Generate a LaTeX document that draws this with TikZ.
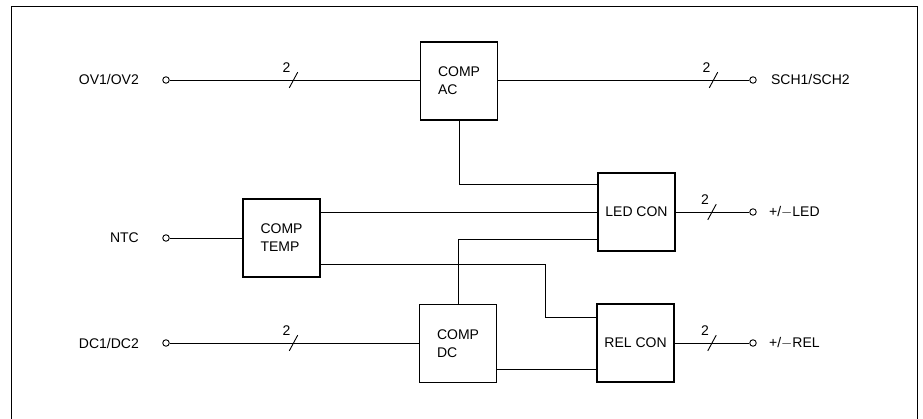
\documentclass[tikz,border=0pt]{standalone}
\usepackage{fontspec}
\setmainfont{Liberation Sans}
\usetikzlibrary{positioning}

\begin{document}
\begin{tikzpicture}[x=1pt, y=-1pt, line width=0.9pt,
  blk/.style={draw, line width=1.1pt, minimum width=77pt, minimum height=78pt,
    inner sep=0pt, align=left, font=\fontsize{14pt}{18pt}\selectfont},
  term/.style={draw, circle, inner sep=0pt, minimum size=6.5pt},
  lbl/.style={inner sep=0pt, font=\fontsize{14pt}{16pt}\selectfont},
  bus/.pic={\draw (-4.2,7.8) -- (4.2,-7.8); \node[lbl] at (-7,-12) {2};}]
  \useasboundingbox (0,0) rectangle (923,419);
  % frame
  \draw[line width=1pt] (11,419) -- (11,7) -- (917,7) -- (917,419);

  % blocks
  \node[blk] (ac) at (459,81) {COMP\\AC};
  \node[blk] (temp) at (281.5,238) {COMP\\TEMP};
  \node[blk] (led) at (636.5,212) {LED CON};
  \node[blk] (dc) at (458,343.5) {COMP\\DC};
  \node[blk] (rel) at (635.5,343) {REL CON};

  % terminals
  \node[term] (ov) at (166,80) {};
  \node[term] (ntc) at (166,238) {};
  \node[term] (dcin) at (166,343) {};
  \node[term] (sch) at (753,80) {};
  \node[term] (ledout) at (753,212) {};
  \node[term] (relout) at (753,343) {};
  \node[lbl, left=23pt of ov] (ovlbl) {OV1/OV2};
  \node[lbl, left=23pt of ntc] (ntclbl) {NTC};
  \node[lbl, left=23pt of dcin] (dclbl) {DC1/DC2};
  \node[lbl, right=14pt of sch] (schlbl) {SCH1/SCH2};
  \node[lbl, right=12pt of ledout] (ledlbl) {+/$-$LED};
  \node[lbl, right=12pt of relout] (rellbl) {+/$-$REL};

  % wires
  \draw (ov) -- (ov -| ac.west);
  \draw (ac.east |- sch) -- (sch);
  \draw (ntc) -- (ntc -| temp.west);
  \draw (dcin) -- (dcin -| dc.west);
  \draw (led) -- (ledout);
  \draw (rel) -- (relout);
  \draw (ac) |- ([yshift=-12pt]led.north west);
  \draw (temp.east |- led) -- (led);
  \draw ([yshift=-27pt]led.west) -| (dc);
  \coordinate (bend) at ([xshift=-51pt,yshift=-14pt]rel.north west);
  \draw ([yshift=-26pt]temp.east) -| (bend) -- (bend -| rel.west);
  \coordinate (dclow) at ([yshift=-25.5pt]dc.east);
  \draw (dclow) -- (dclow -| rel.west);

  % bus marks
  \pic at (293.5,80) {bus};
  \pic at (713.5,80) {bus};
  \pic at (712,212) {bus};
  \pic at (293.5,343) {bus};
  \pic at (712,343) {bus};
\end{tikzpicture}
\end{document}
